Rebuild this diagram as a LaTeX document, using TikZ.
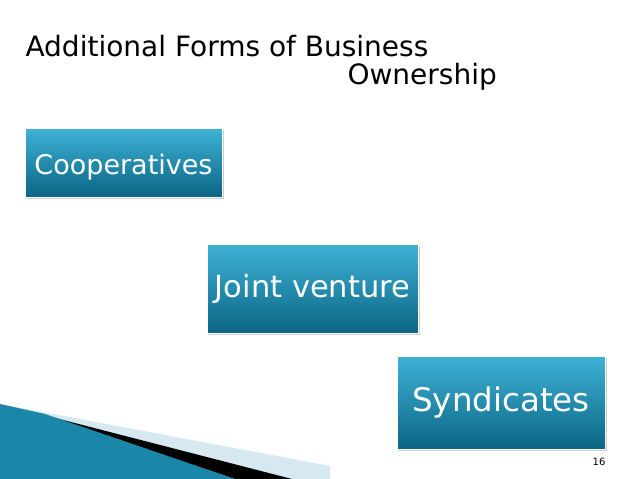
\documentclass[tikz,border=0pt]{standalone}
\usepackage{fontspec}
\setmainfont{DejaVu Sans}
\usetikzlibrary{shadows}
\definecolor{boxtop}{HTML}{3FB2D6}
\definecolor{boxbot}{HTML}{0B6585}
\definecolor{deco}{HTML}{1A86A8}
\definecolor{decolt}{HTML}{D6E9F0}
\tikzset{biz/.style={draw=white, line width=0.8pt, top color=boxtop, bottom color=boxbot, text=white, inner sep=0pt, drop shadow={opacity=0.4, shadow xshift=2pt, shadow yshift=-2pt}}}
\begin{document}
\begin{tikzpicture}[x=1pt,y=-1pt]
\useasboundingbox (0,0) rectangle (638,479);
\fill[white] (0,0) rectangle (638,479);
% decoration
\fill[decolt] (0,404) -- (330,466) -- (330,479) -- (0,479) -- cycle;
\fill[black] (40,414) -- (292,479) -- (235,479) -- cycle;
\fill[deco] (0,404) -- (45,414) -- (235,479) -- (0,479) -- cycle;
\node[biz, minimum width=197, minimum height=69, font=\fontsize{27}{30}\selectfont] (c) at (123.5,162.5) {\raisebox{-12pt}[0pt][0pt]{Cooperatives}};
\node[biz, minimum width=211, minimum height=89, font=\fontsize{30.5}{34}\selectfont] (j) at (312.5,288.5) {Joint venture};
\node[biz, minimum width=208, minimum height=93, font=\fontsize{32.5}{36}\selectfont] (s) at (501,402.5) {Syndicates};
\node[anchor=west, font=\fontsize{28}{32}\selectfont] (t1) at (22,46) {Additional Forms of Business};
\node[anchor=west, font=\fontsize{28}{32}\selectfont] (t2) at (344,77) {Ownership};
\node[anchor=east, font=\fontsize{10}{12}\selectfont] (n) at (609,462) {16};
\end{tikzpicture}
\end{document}
